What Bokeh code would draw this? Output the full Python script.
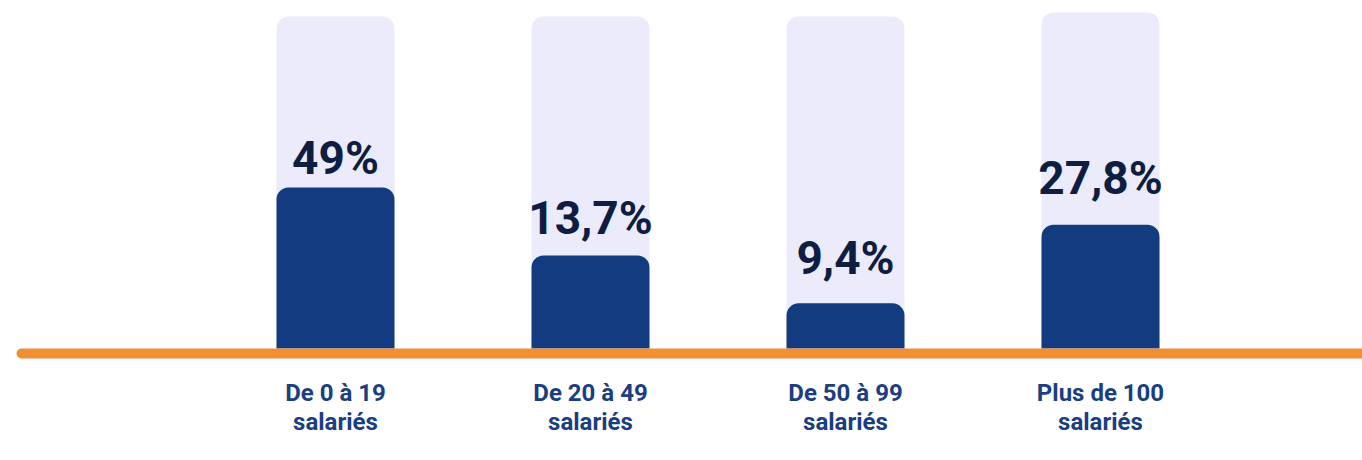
from bokeh.plotting import figure
from bokeh.models import Range1d, ColumnDataSource
from bokeh.core.properties import value
from bokeh.embed import file_html
from bokeh.resources import INLINE

# ---- data ----
categories_line1 = ["De 0 à 19", "De 20 à 49", "De 50 à 99", "Plus de 100"]
categories_line2 = ["salariés", "salariés", "salariés", "salariés"]
value_labels = ["49%", "13,7%", "9,4%", "27,8%"]
values = [49.0, 13.7, 9.4, 27.8]
# bar heights as drawn in the picture (same scale as background = 100)
bar_heights = [48.5, 28.0, 13.6, 37.3]
background_heights = [100.0, 100.0, 100.0, 101.2]

# ---- styles ----
label_gaps = [14, 23, 30, 32]  # px between bar top and value label baseline
DARK = "#133c80"
LIGHT = "#ebebfc"
ORANGE = "#f18f33"
NAVY = "#0e1d40"
CAT = "#1a3e80"
SHIFT = 11  # px correction for rendered baseline (category labels)
VSHIFT = 15  # px correction for rendered baseline (value labels)

xs = list(range(len(categories_line1)))
src = ColumnDataSource(dict(
    x=xs, top=bar_heights, bg=background_heights, lab=value_labels,
    c1=categories_line1, c2=categories_line2,
    yoff=[-(g + VSHIFT) for g in label_gaps],
))

W, H = 1362, 460
p = figure(width=W, height=H, output_backend="svg", toolbar_location=None,
           x_range=Range1d(-1.3137, -1.3137 + W / 255.0),
           y_range=Range1d(-33.73, -33.73 + H / 3.32),
           min_border=0)
p.axis.visible = False
p.grid.visible = False
p.outline_line_color = None
p.background_fill_color = "white"
p.border_fill_color = "white"

bw = 118 / 255.0
p.vbar(x="x", top="bg", bottom=0, width=bw, source=src, fill_color=LIGHT,
       line_color=None, border_radius=(12, 12, 0, 0))
p.vbar(x="x", top="top", bottom=0, width=bw, source=src, fill_color=DARK,
       line_color=None, border_radius=(12, 12, 0, 0))

# orange baseline
p.segment(x0=[-1.2313], y0=[-1.5], x1=[4.2], y1=[-1.5], line_color=ORANGE,
          line_width=10, line_cap="round")

p.text(x="x", y="top", text="lab", source=src, y_offset="yoff",
       text_align="center", text_baseline="alphabetic",
       text_font=value("Roboto"), text_font_style="bold",
       text_font_size="46px", text_color=NAVY)

y1 = (348 - 403 + SHIFT) / 3.32
y2 = (348 - 432 + SHIFT) / 3.32
p.text(x="x", y=y1, text="c1", source=src, text_align="center",
       text_baseline="alphabetic", text_font=value("Roboto"),
       text_font_style="bold", text_font_size="24px", text_color=CAT)
p.text(x="x", y=y2, text="c2", source=src, text_align="center",
       text_baseline="alphabetic", text_font=value("Roboto"),
       text_font_style="bold", text_font_size="24px", text_color=CAT)

open("out.html", "w").write(file_html(p, INLINE))
